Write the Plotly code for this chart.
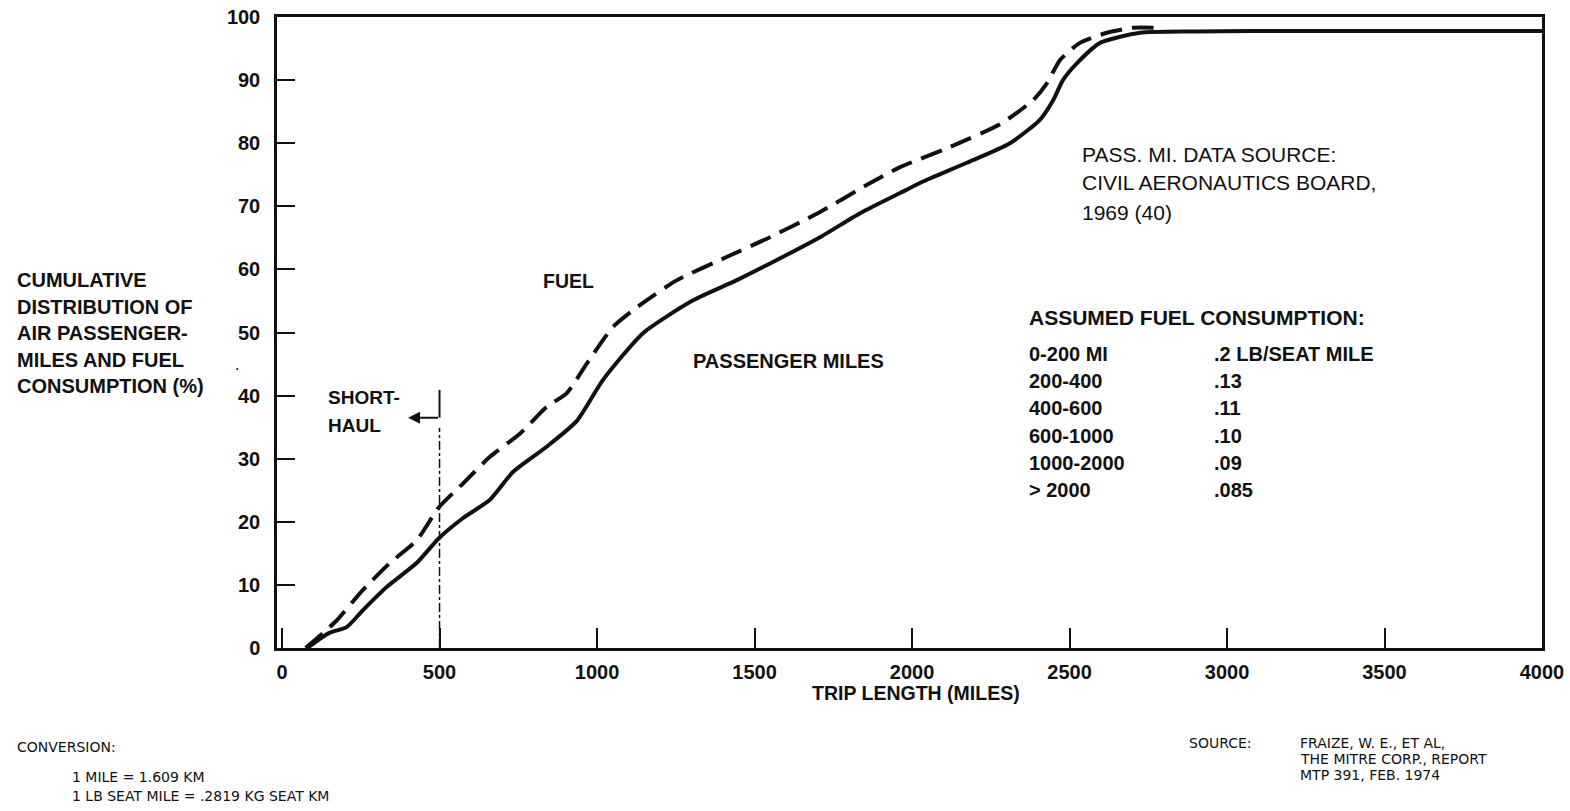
import plotly.graph_objects as go

# ---------------- data ----------------
pass_miles_x = [80, 150, 205, 257, 333, 428, 498, 575, 660, 733, 840, 936, 1019, 1146, 1305,
                1444, 1571, 1708, 1835, 1962, 2047, 2174, 2311, 2406, 2448, 2479, 2524, 2597,
                2724, 2900, 3232, 4000]
pass_miles_y = [0, 2.4, 3.3, 6.0, 9.7, 13.5, 17.4, 20.6, 23.5, 27.9, 31.9, 36.0, 42.5, 49.9, 55.1,
                58.3, 61.5, 65.1, 68.9, 72.1, 74.2, 76.9, 80.0, 83.7, 86.8, 90.0, 92.7, 95.9,
                97.5, 97.7, 97.8, 97.8]

fuel_x = [75, 131, 174, 257, 343, 428, 498, 575, 660, 756, 840, 904, 968, 1051, 1146, 1254,
          1413, 1549, 1708, 1857, 1962, 2121, 2279, 2384, 2428, 2470, 2533, 2619, 2702, 2778]
fuel_y = [0, 2.4, 4.4, 9.2, 13.5, 17.1, 22.3, 26.1, 30.3, 34.0, 38.2, 40.4, 45.1, 50.9, 54.7, 58.3,
          62.0, 65.1, 69.1, 73.4, 76.2, 79.4, 83.0, 86.8, 89.5, 93.2, 95.9, 97.5, 98.3, 98.3]

x_ticks = [0, 500, 1000, 1500, 2000, 2500, 3000, 3500, 4000]
y_ticks = [0, 10, 20, 30, 40, 50, 60, 70, 80, 90, 100]

short_haul_limit = 500

fuel_ranges = ["0-200 MI", "200-400", "400-600", "600-1000", "1000-2000", "> 2000"]
fuel_rates = [".2 LB/SEAT MILE", ".13", ".11", ".10", ".09", ".085"]

ylabel_lines = ["CUMULATIVE", "DISTRIBUTION OF", "AIR PASSENGER-", "MILES AND FUEL",
                "CONSUMPTION (%)"]
source_lines = ["PASS. MI. DATA SOURCE:", "CIVIL AERONAUTICS BOARD,", "1969 (40)"]
conversion_lines = ["CONVERSION:", "1 MILE = 1.609 KM", "1 LB SEAT MILE = .2819 KG SEAT KM"]
ref_lines = ["FRAIZE, W. E., ET AL,", "THE MITRE CORP., REPORT", "MTP 391, FEB. 1974"]

# ---------------- layout helpers ----------------
W, H = 1570, 811
L, R, T, B = 277, 1542, 17, 648
INK = "#111111"
BOLD = "Liberation Sans, Arial, sans-serif"
LIGHT = "Liberation Sans, Arial, sans-serif"
SMALL = "DejaVu Sans, sans-serif"


def px(x):
    return (x - L) / (R - L)


def py(y):
    return (B - y) / (B - T)


fig = go.Figure()

fig.add_trace(go.Scatter(x=pass_miles_x, y=pass_miles_y, mode="lines",
                         line=dict(color=INK, width=4, shape="spline", smoothing=0.6),
                         name="PASSENGER MILES", hoverinfo="skip"))
fig.add_trace(go.Scatter(x=fuel_x, y=fuel_y, mode="lines",
                         line=dict(color=INK, width=4, shape="spline", smoothing=0.6,
                                   dash="22px,10px"),
                         name="FUEL", hoverinfo="skip"))

ann = []


def text(x, y, s, size, family=BOLD, weight="bold", xanchor="left"):
    ann.append(dict(x=px(x), y=py(y), xref="paper", yref="paper", text=s, showarrow=False,
                    xanchor=xanchor, yanchor="middle",
                    font=dict(family=family, size=size, color=INK, weight=weight)))


# y-axis title lines
for i, s in enumerate(ylabel_lines):
    text(15, 280 + i * 26.6, s, 20)

# in-plot labels
text(568, 281, "FUEL", 19.5, xanchor="center")
text(788, 361, "PASSENGER MILES", 20, xanchor="center")
text(326, 397, "SHORT-", 19)
text(326, 425, "HAUL", 19)

for i, s in enumerate(source_lines):
    text(1080, 154 + i * 29, s, 21, family=LIGHT, weight="normal")

text(1027, 317, "ASSUMED FUEL CONSUMPTION:", 21)
for i, (a, b) in enumerate(zip(fuel_ranges, fuel_rates)):
    text(1027, 354 + i * 27.2, a, 20)
    text(1212, 354 + i * 27.2, b, 20)

# x-axis title
text(916, 693, "TRIP LENGTH (MILES)", 19.5, xanchor="center")

# small print
text(15, 747, conversion_lines[0], 14, family=SMALL, weight="normal")
text(70, 777, conversion_lines[1], 14, family=SMALL, weight="normal")
text(70, 796, conversion_lines[2], 14, family=SMALL, weight="normal")
text(1187, 743, "SOURCE:", 14, family=SMALL, weight="normal")
for i, s in enumerate(ref_lines):
    text(1298, 743 + i * 16, s, 14, family=SMALL, weight="normal")

# speck in the original scan
text(237, 368, "•", 7, xanchor="center", weight="normal")

# short-haul arrow
ann.append(dict(x=short_haul_limit - 100, y=36.5, ax=short_haul_limit, ay=36.5,
                xref="x", yref="y", axref="x", ayref="y", text="", showarrow=True,
                arrowhead=2, arrowsize=1.2, arrowwidth=2, arrowcolor=INK))

shapes = [
    dict(type="line", xref="x", yref="y", x0=short_haul_limit, x1=short_haul_limit,
         y0=0, y1=34.9, line=dict(color=INK, width=1.5, dash="dashdot")),
    dict(type="line", xref="x", yref="y", x0=short_haul_limit, x1=short_haul_limit,
         y0=36.5, y1=40.9, line=dict(color=INK, width=2)),
]

tickfont = dict(family=BOLD, size=20, color=INK, weight="bold")
fig.update_layout(
    width=W, height=H,
    margin=dict(l=L, r=W - R, t=T, b=H - B, autoexpand=False),
    paper_bgcolor="white", plot_bgcolor="white",
    showlegend=False, hovermode=False,
    annotations=ann, shapes=shapes,
    xaxis=dict(range=[-16, 4000], tickvals=x_ticks, ticktext=[str(v) for v in x_ticks],
               showgrid=False, zeroline=False, showline=True, mirror=True, automargin=False,
               linecolor=INK, linewidth=2.5, ticks="inside", ticklen=20, tickwidth=2,
               tickcolor=INK, ticklabelstandoff=4, tickfont=tickfont,
               ticklabeloverflow="allow"),
    yaxis=dict(range=[0, 100], tickvals=y_ticks, ticktext=[str(v) for v in y_ticks],
               showgrid=False, zeroline=False, showline=True, mirror=True, automargin=False,
               linecolor=INK, linewidth=2.5, ticks="inside", ticklen=18, tickwidth=2,
               tickcolor=INK, ticklabelstandoff=10, tickfont=tickfont,
               ticklabeloverflow="allow"),
)

fig.write_html("out.html", config={"displayModeBar": False},
               post_script="document.body.style.margin='0';document.body.style.overflow='hidden';")
